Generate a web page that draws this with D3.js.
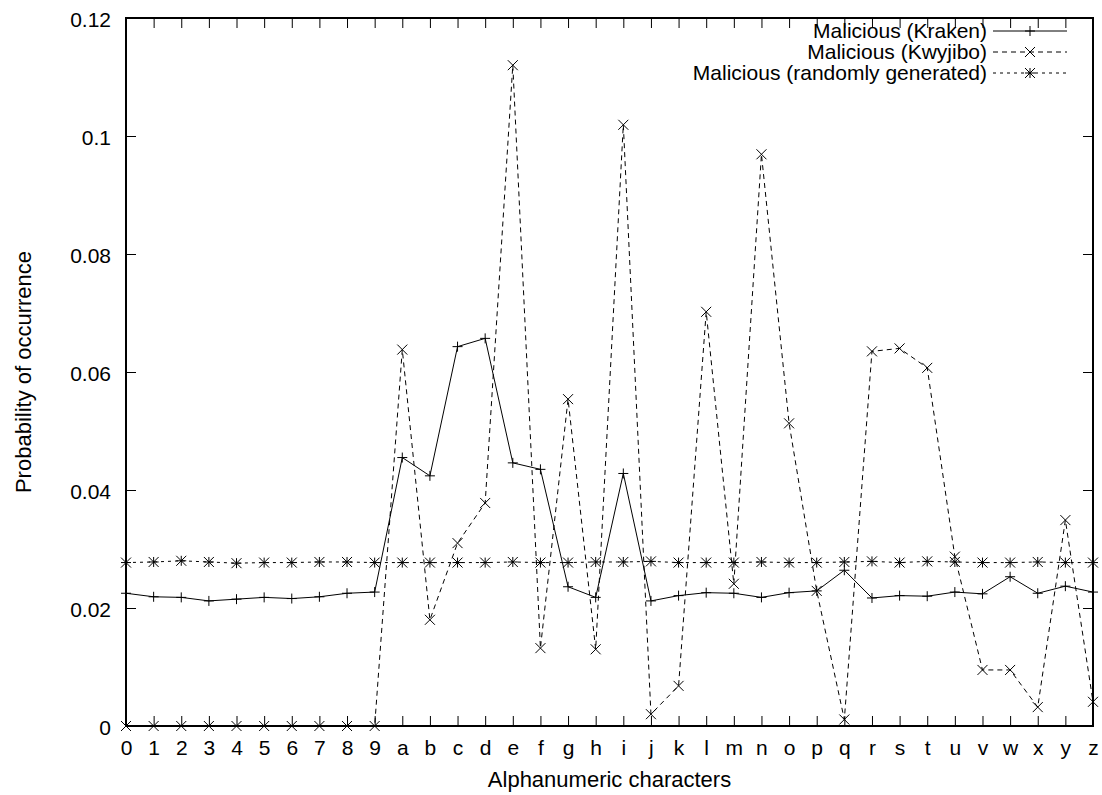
<!DOCTYPE html>
<meta charset="utf-8">

<head>
    <script src="https://d3js.org/d3.v7.min.js"></script>
</head>
<style>
    body {
        margin: 0;
        background: #fff;
        font-family: "Liberation Sans", Arial, Helvetica, sans-serif;
    }

    .axis text {
        font-size: 21px;
        fill: #000;
        font-family: "Liberation Sans", Arial, sans-serif;
    }

    .axis line {
        stroke: #000;
        stroke-width: 1;
    }

    .series {
        fill: none;
        stroke: #000;
        stroke-width: 1;
    }
</style>

<body>
    <svg id="chart" width="1102" height="795"></svg>
    <script>
        'use strict';

        // categories on the x axis
        const chars = ["0", "1", "2", "3", "4", "5", "6", "7", "8", "9",
            "a", "b", "c", "d", "e", "f", "g", "h", "i", "j", "k", "l", "m",
            "n", "o", "p", "q", "r", "s", "t", "u", "v", "w", "x", "y", "z"];

        const yTicks = [0, 0.02, 0.04, 0.06, 0.08, 0.1, 0.12];

        const kraken = [0.0225, 0.0219, 0.0218, 0.0212, 0.0215, 0.0218, 0.0216, 0.0219, 0.0225, 0.0227,
            0.0455, 0.0424, 0.0643, 0.0657, 0.0446, 0.0435, 0.0236, 0.0218, 0.0428, 0.0212,
            0.0221, 0.0226, 0.0225, 0.0218, 0.0226, 0.0229, 0.0264, 0.0217, 0.0221, 0.0220,
            0.0227, 0.0224, 0.0253, 0.0225, 0.0237, 0.0227];

        const kwyjibo = [0, 0, 0, 0, 0, 0, 0, 0, 0, 0,
            0.0638, 0.0180, 0.0310, 0.0378, 0.1120, 0.0132, 0.0554, 0.0130, 0.1019, 0.0020,
            0.0068, 0.0702, 0.0241, 0.0969, 0.0513, 0.0229, 0.0011, 0.0635, 0.0640, 0.0607,
            0.0287, 0.0095, 0.0095, 0.0032, 0.0349, 0.0041];

        const randomGen = [0.0277, 0.0278, 0.0280, 0.0278, 0.0276, 0.0277, 0.0277, 0.0278, 0.0278, 0.0277,
            0.0277, 0.0277, 0.0277, 0.0277, 0.0278, 0.0277, 0.0277, 0.0278, 0.0278, 0.0279,
            0.0277, 0.0277, 0.0277, 0.0278, 0.0277, 0.0277, 0.0278, 0.0279, 0.0277, 0.0279,
            0.0278, 0.0277, 0.0277, 0.0278, 0.0277, 0.0277];

        const seriesNames = ["Malicious (Kraken)", "Malicious (Kwyjibo)", "Malicious (randomly generated)"];

        const margin = { top: 18, right: 9, bottom: 69, left: 126 },
            width = 1102 - margin.left - margin.right,
            height = 795 - margin.top - margin.bottom;

        const svg = d3.select("#chart");
        const g = svg.append("g").attr("transform", `translate(${margin.left},${margin.top})`);

        const x = d3.scalePoint().domain(chars).range([0, width]);
        const y = d3.scaleLinear().domain([0, 0.12]).range([height, 0]);

        // marker shapes (gnuplot style point types)
        const S = 5;
        const markers = {
            plus: `M${-S},0H${S}M0,${-S}V${S}`,
            cross: `M${-S},${-S}L${S},${S}M${-S},${S}L${S},${-S}`,
            star: `M${-S},0H${S}M0,${-S}V${S}M${-S},${-S}L${S},${S}M${-S},${S}L${S},${-S}`
        };

        const series = [
            { name: seriesNames[0], values: kraken, dash: null, marker: markers.plus },
            { name: seriesNames[1], values: kwyjibo, dash: "5,4", marker: markers.cross },
            { name: seriesNames[2], values: randomGen, dash: "3,4", marker: markers.star }
        ];

        // axes, ticks pointing inward, mirrored on top/right
        const xAxis = g.append("g").attr("class", "axis")
            .attr("transform", `translate(0,${height})`)
            .call(d3.axisBottom(x).tickSizeInner(-10).tickSizeOuter(0));
        xAxis.selectAll("text").attr("y", 29).attr("dy", null);

        g.append("g").attr("class", "axis")
            .call(d3.axisTop(x).tickSizeInner(-10).tickSizeOuter(0).tickFormat(""));

        const yAxis = g.append("g").attr("class", "axis")
            .call(d3.axisLeft(y).tickValues(yTicks).tickSizeInner(-10).tickSizeOuter(0)
                .tickFormat(d => d3.format("")(+d.toFixed(2))));
        yAxis.selectAll("text").attr("x", -15).attr("dy", "0.42em");

        g.append("g").attr("class", "axis")
            .attr("transform", `translate(${width},0)`)
            .call(d3.axisRight(y).tickValues(yTicks).tickSizeInner(-10).tickSizeOuter(0).tickFormat(""));

        g.selectAll(".axis .domain").remove();

        // series lines and points
        const line = d3.line()
            .x((d, i) => x(chars[i]))
            .y(d => y(d));

        series.forEach(s => {
            g.append("path")
                .datum(s.values)
                .attr("class", "series")
                .attr("stroke-dasharray", s.dash)
                .attr("d", line);

            g.selectAll(null)
                .data(s.values)
                .enter().append("path")
                .attr("class", "series")
                .attr("transform", (d, i) => `translate(${x(chars[i])},${y(d)})`)
                .attr("d", s.marker);
        });

        // border
        g.append("rect")
            .attr("width", width)
            .attr("height", height)
            .attr("fill", "none")
            .attr("stroke", "#000")
            .attr("stroke-width", 2);

        // legend (no box, right-aligned text)
        const legend = g.append("g").attr("transform", `translate(${987 - margin.left},0)`);
        series.forEach((s, i) => {
            const row = legend.append("g").attr("transform", `translate(0,${13 + i * 21})`);
            row.append("text")
                .attr("x", 0)
                .attr("y", 6.5)
                .attr("text-anchor", "end")
                .style("font-size", "21px")
                .text(s.name);
            row.append("line")
                .attr("class", "series")
                .attr("x1", 6).attr("x2", 80)
                .attr("stroke-dasharray", s.dash);
            row.append("path")
                .attr("class", "series")
                .attr("transform", "translate(43,0)")
                .attr("d", s.marker);
        });

        // axis titles
        svg.append("text")
            .attr("x", margin.left + width / 2)
            .attr("y", 787)
            .attr("text-anchor", "middle")
            .style("font-size", "22px")
            .text("Alphanumeric characters");

        svg.append("text")
            .attr("transform", `translate(31,${margin.top + height / 2}) rotate(-90)`)
            .attr("text-anchor", "middle")
            .style("font-size", "22px")
            .text("Probability of occurrence");
    </script>
</body>
